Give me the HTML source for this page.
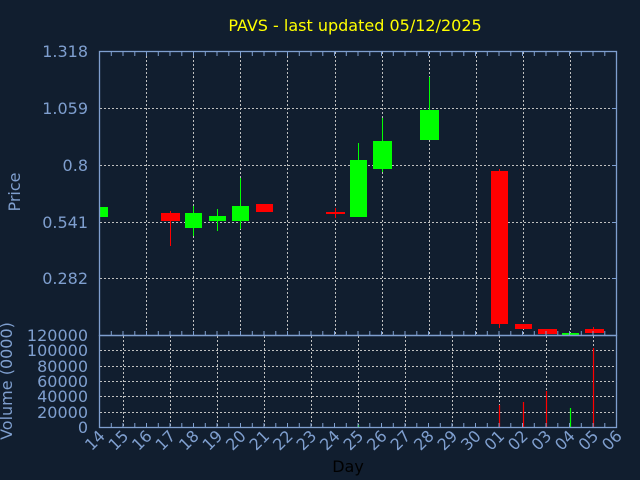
<!DOCTYPE html>
<html><head><style>
html,body{margin:0;padding:0;background:#111e2f;}
svg{display:block;}
text{font-family:"DejaVu Sans","Liberation Sans",sans-serif;}
</style></head><body>
<svg width="640" height="480" viewBox="0 0 640 480" xmlns="http://www.w3.org/2000/svg">
<rect width="640" height="480" fill="#111e2f"/>
<text x="355" y="31" fill="#ffff00" font-size="16" text-anchor="middle">PAVS - last updated 05/12/2025</text>
<!-- price grid -->
<g stroke="#c0c0c0" stroke-width="1" stroke-dasharray="2,2">
<line x1="100" y1="108.5" x2="616" y2="108.5"/>
<line x1="100" y1="165.5" x2="616" y2="165.5"/>
<line x1="100" y1="222.5" x2="616" y2="222.5"/>
<line x1="100" y1="278.5" x2="616" y2="278.5"/>
<line x1="146.5" y1="52" x2="146.5" y2="335"/>
<line x1="193.5" y1="52" x2="193.5" y2="335"/>
<line x1="240.5" y1="52" x2="240.5" y2="335"/>
<line x1="287.5" y1="52" x2="287.5" y2="335"/>
<line x1="335.5" y1="52" x2="335.5" y2="335"/>
<line x1="382.5" y1="52" x2="382.5" y2="335"/>
<line x1="429.5" y1="52" x2="429.5" y2="335"/>
<line x1="476.5" y1="52" x2="476.5" y2="335"/>
<line x1="523.5" y1="52" x2="523.5" y2="335"/>
<line x1="570.5" y1="52" x2="570.5" y2="335"/>
<!-- volume grid -->
<line x1="100" y1="350.5" x2="616" y2="350.5"/>
<line x1="100" y1="366.5" x2="616" y2="366.5"/>
<line x1="100" y1="381.5" x2="616" y2="381.5"/>
<line x1="100" y1="396.5" x2="616" y2="396.5"/>
<line x1="100" y1="412.5" x2="616" y2="412.5"/>
<line x1="123.5" y1="336" x2="123.5" y2="427"/>
<line x1="170.5" y1="336" x2="170.5" y2="427"/>
<line x1="217.5" y1="336" x2="217.5" y2="427"/>
<line x1="264.5" y1="336" x2="264.5" y2="427"/>
<line x1="311.5" y1="336" x2="311.5" y2="427"/>
<line x1="358.5" y1="336" x2="358.5" y2="427"/>
<line x1="405.5" y1="336" x2="405.5" y2="427"/>
<line x1="452.5" y1="336" x2="452.5" y2="427"/>
<line x1="499.5" y1="336" x2="499.5" y2="427"/>
<line x1="546.5" y1="336" x2="546.5" y2="427"/>
<line x1="593.5" y1="336" x2="593.5" y2="427"/>
</g>
<!-- candles -->
<g>
<rect x="99" y="207" width="9" height="10" fill="#00ff00"/>
<line x1="170.5" y1="211" x2="170.5" y2="246" stroke="#ff0000"/>
<rect x="161" y="213" width="19" height="8" fill="#ff0000"/>
<line x1="193.5" y1="206" x2="193.5" y2="236" stroke="#00ff00"/>
<rect x="185" y="213" width="17" height="15" fill="#00ff00"/>
<line x1="217.5" y1="209" x2="217.5" y2="231" stroke="#00ff00"/>
<rect x="209" y="216" width="17" height="5" fill="#00ff00"/>
<line x1="240.5" y1="178" x2="240.5" y2="229" stroke="#00ff00"/>
<rect x="232" y="206" width="17" height="15" fill="#00ff00"/>
<rect x="256" y="204" width="17" height="8" fill="#ff0000"/>
<line x1="335.5" y1="208" x2="335.5" y2="218" stroke="#ff0000"/>
<rect x="326" y="212" width="19" height="2" fill="#ff0000"/>
<line x1="358.5" y1="143" x2="358.5" y2="217" stroke="#00ff00"/>
<rect x="350" y="160" width="17" height="57" fill="#00ff00"/>
<line x1="382.5" y1="118" x2="382.5" y2="172" stroke="#00ff00"/>
<rect x="373" y="141" width="19" height="28" fill="#00ff00"/>
<line x1="429.5" y1="77" x2="429.5" y2="140" stroke="#00ff00"/>
<rect x="420" y="110" width="19" height="30" fill="#00ff00"/>
<line x1="499.5" y1="169" x2="499.5" y2="328" stroke="#ff0000"/>
<rect x="491" y="171" width="17" height="153" fill="#ff0000"/>
<rect x="515" y="324" width="17" height="5" fill="#ff0000"/>
<rect x="538" y="329" width="19" height="5" fill="#ff0000"/>
<rect x="562" y="333" width="17" height="2" fill="#00ff00"/>
<line x1="593.5" y1="327" x2="593.5" y2="330" stroke="#ff0000"/>
<rect x="585" y="329" width="19" height="4" fill="#ff0000"/>
</g>
<!-- volume bars -->
<g stroke-width="1.2">
<line x1="358.5" y1="425" x2="358.5" y2="427" stroke="#00ff00"/>
<line x1="499.5" y1="405" x2="499.5" y2="427" stroke="#ff0000"/>
<line x1="523.5" y1="402" x2="523.5" y2="427" stroke="#ff0000"/>
<line x1="546.5" y1="391" x2="546.5" y2="427" stroke="#ff0000"/>
<line x1="570.5" y1="408" x2="570.5" y2="427" stroke="#00ff00"/>
<line x1="593.5" y1="348" x2="593.5" y2="427" stroke="#ff0000"/>
</g>
<!-- axes -->
<g stroke="#7f9fcf" fill="none" stroke-width="1.3">
<rect x="99.5" y="51.5" width="517" height="284"/>
<rect x="99.5" y="335.5" width="517" height="92"/>
</g>
<g stroke="#7f9fcf" stroke-width="1">
<path d="M111.3 52v4M123 52v4M134.8 52v4M146.5 52v4M158.3 52v4M170 52v4M181.8 52v4M193.5 52v4M205.3 52v4M217 52v4M228.8 52v4M240.5 52v4M252.3 52v4M264 52v4M275.8 52v4M287.5 52v4M299.3 52v4M311 52v4M322.8 52v4M334.5 52v4M346.3 52v4M358 52v4M369.8 52v4M381.5 52v4M393.3 52v4M405 52v4M416.8 52v4M428.5 52v4M440.3 52v4M452 52v4M463.8 52v4M475.5 52v4M487.3 52v4M499 52v4M510.8 52v4M522.5 52v4M534.3 52v4M546 52v4M557.8 52v4M569.5 52v4M581.3 52v4M593 52v4M604.8 52v4"/>
<path d="M111.3 335v-4M123 335v-4M134.8 335v-4M146.5 335v-4M158.3 335v-4M170 335v-4M181.8 335v-4M193.5 335v-4M205.3 335v-4M217 335v-4M228.8 335v-4M240.5 335v-4M252.3 335v-4M264 335v-4M275.8 335v-4M287.5 335v-4M299.3 335v-4M311 335v-4M322.8 335v-4M334.5 335v-4M346.3 335v-4M358 335v-4M369.8 335v-4M381.5 335v-4M393.3 335v-4M405 335v-4M416.8 335v-4M428.5 335v-4M440.3 335v-4M452 335v-4M463.8 335v-4M475.5 335v-4M487.3 335v-4M499 335v-4M510.8 335v-4M522.5 335v-4M534.3 335v-4M546 335v-4M557.8 335v-4M569.5 335v-4M581.3 335v-4M593 335v-4M604.8 335v-4"/>
<path d="M111.3 427v-4M123 427v-4M134.8 427v-4M146.5 427v-4M158.3 427v-4M170 427v-4M181.8 427v-4M193.5 427v-4M205.3 427v-4M217 427v-4M228.8 427v-4M240.5 427v-4M252.3 427v-4M264 427v-4M275.8 427v-4M287.5 427v-4M299.3 427v-4M311 427v-4M322.8 427v-4M334.5 427v-4M346.3 427v-4M358 427v-4M369.8 427v-4M381.5 427v-4M393.3 427v-4M405 427v-4M416.8 427v-4M428.5 427v-4M440.3 427v-4M452 427v-4M463.8 427v-4M475.5 427v-4M487.3 427v-4M499 427v-4M510.8 427v-4M522.5 427v-4M534.3 427v-4M546 427v-4M557.8 427v-4M569.5 427v-4M581.3 427v-4M593 427v-4M604.8 427v-4"/>
<path d="M612 108.5h4M612 165.5h4M612 222.5h4M612 278.5h4"/>
</g>
<!-- y labels -->
<g fill="#7f9fcf" font-size="16" text-anchor="end">
<text x="88" y="57">1.318</text>
<text x="88" y="114">1.059</text>
<text x="88" y="171">0.8</text>
<text x="88" y="228">0.541</text>
<text x="88" y="284">0.282</text>
<text x="88" y="341">120000</text>
<text x="88" y="356">100000</text>
<text x="88" y="372">80000</text>
<text x="88" y="387">60000</text>
<text x="88" y="402">40000</text>
<text x="88" y="418">20000</text>
<text x="88" y="433">0</text>
</g>
<text transform="translate(20,192) rotate(-90)" fill="#7f9fcf" font-size="16" text-anchor="middle">Price</text>
<text transform="translate(12,381) rotate(-90)" fill="#7f9fcf" font-size="16" text-anchor="middle">Volume (0000)</text>
<!-- x labels -->
<g fill="#7f9fcf" font-size="16" text-anchor="end">
<text transform="translate(106,437) rotate(-45)">14</text>
<text transform="translate(129.5,437) rotate(-45)">15</text>
<text transform="translate(153,437) rotate(-45)">16</text>
<text transform="translate(176.5,437) rotate(-45)">17</text>
<text transform="translate(200,437) rotate(-45)">18</text>
<text transform="translate(223.5,437) rotate(-45)">19</text>
<text transform="translate(247,437) rotate(-45)">20</text>
<text transform="translate(270.5,437) rotate(-45)">21</text>
<text transform="translate(294,437) rotate(-45)">22</text>
<text transform="translate(317.5,437) rotate(-45)">23</text>
<text transform="translate(341,437) rotate(-45)">24</text>
<text transform="translate(364.5,437) rotate(-45)">25</text>
<text transform="translate(388,437) rotate(-45)">26</text>
<text transform="translate(411.5,437) rotate(-45)">27</text>
<text transform="translate(435,437) rotate(-45)">28</text>
<text transform="translate(458.5,437) rotate(-45)">29</text>
<text transform="translate(482,437) rotate(-45)">30</text>
<text transform="translate(505.5,437) rotate(-45)">01</text>
<text transform="translate(529,437) rotate(-45)">02</text>
<text transform="translate(552.5,437) rotate(-45)">03</text>
<text transform="translate(576,437) rotate(-45)">04</text>
<text transform="translate(599.5,437) rotate(-45)">05</text>
<text transform="translate(623,437) rotate(-45)">06</text>
</g>
<text x="348" y="472" fill="#000000" font-size="16" text-anchor="middle">Day</text>
</svg>
</body></html>
